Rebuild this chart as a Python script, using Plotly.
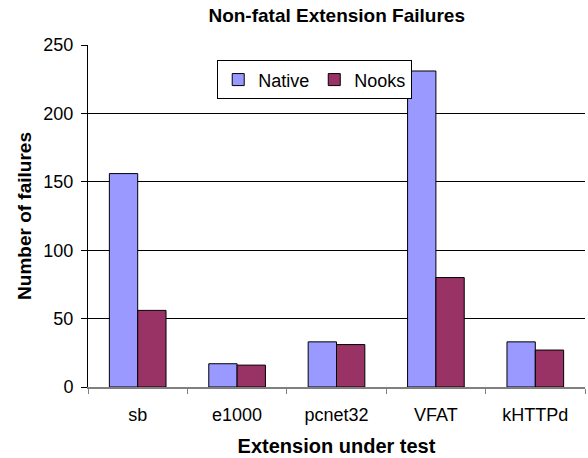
import plotly.graph_objects as go

categories = ["sb", "e1000", "pcnet32", "VFAT", "kHTTPd"]
native = [156, 17, 33, 231, 33]
nooks = [56, 16, 31, 80, 27]
y_ticks = [0, 50, 100, 150, 200, 250]

fig = go.Figure()
fig.add_trace(go.Bar(x=categories, y=native, name="Native",
                     marker=dict(color="#9999FF", line=dict(color="black", width=1))))
fig.add_trace(go.Bar(x=categories, y=nooks, name="Nooks",
                     marker=dict(color="#993366", line=dict(color="black", width=1))))

font = "Arial, Liberation Sans, sans-serif"
fig.update_layout(
    width=588, height=458,
    margin=dict(l=88, r=3, t=45, b=71),
    paper_bgcolor="white", plot_bgcolor="white",
    barmode="group", bargap=0.43, bargroupgap=0,
    font=dict(family=font, size=18, color="black"),
    title=dict(text="<b>Non-fatal Extension Failures</b>", x=0.5726, xanchor="center",
               y=0.967, yanchor="middle", font=dict(size=19)),
    legend=dict(orientation="h", x=0.26, y=0.955, xanchor="left", yanchor="top",
                bordercolor="black", borderwidth=1, bgcolor="white",
                font=dict(size=18), itemwidth=30, traceorder="normal"),
    showlegend=True,
)
fig.update_xaxes(tickson="boundaries", ticks="outside", ticklen=5, tickcolor="#808080",
                 showline=True, linecolor="#808080", linewidth=2,
                 title=dict(text="<b>Extension under test</b>", font=dict(size=20), standoff=15),
                 tickfont=dict(size=18), ticklabelstandoff=10)
fig.update_yaxes(range=[0, 250], tickvals=y_ticks, ticks="outside", ticklen=6, tickcolor="black",
                 showline=True, linecolor="black", linewidth=1,
                 showgrid=True, gridcolor="black", gridwidth=1, zeroline=False,
                 title=dict(text="<b>Number of failures</b>", font=dict(size=19), standoff=6),
                 tickfont=dict(size=18), ticklabelstandoff=4)

fig.write_html("out.html", config={"displayModeBar": False},
               post_script="document.body.style.margin='0';")
